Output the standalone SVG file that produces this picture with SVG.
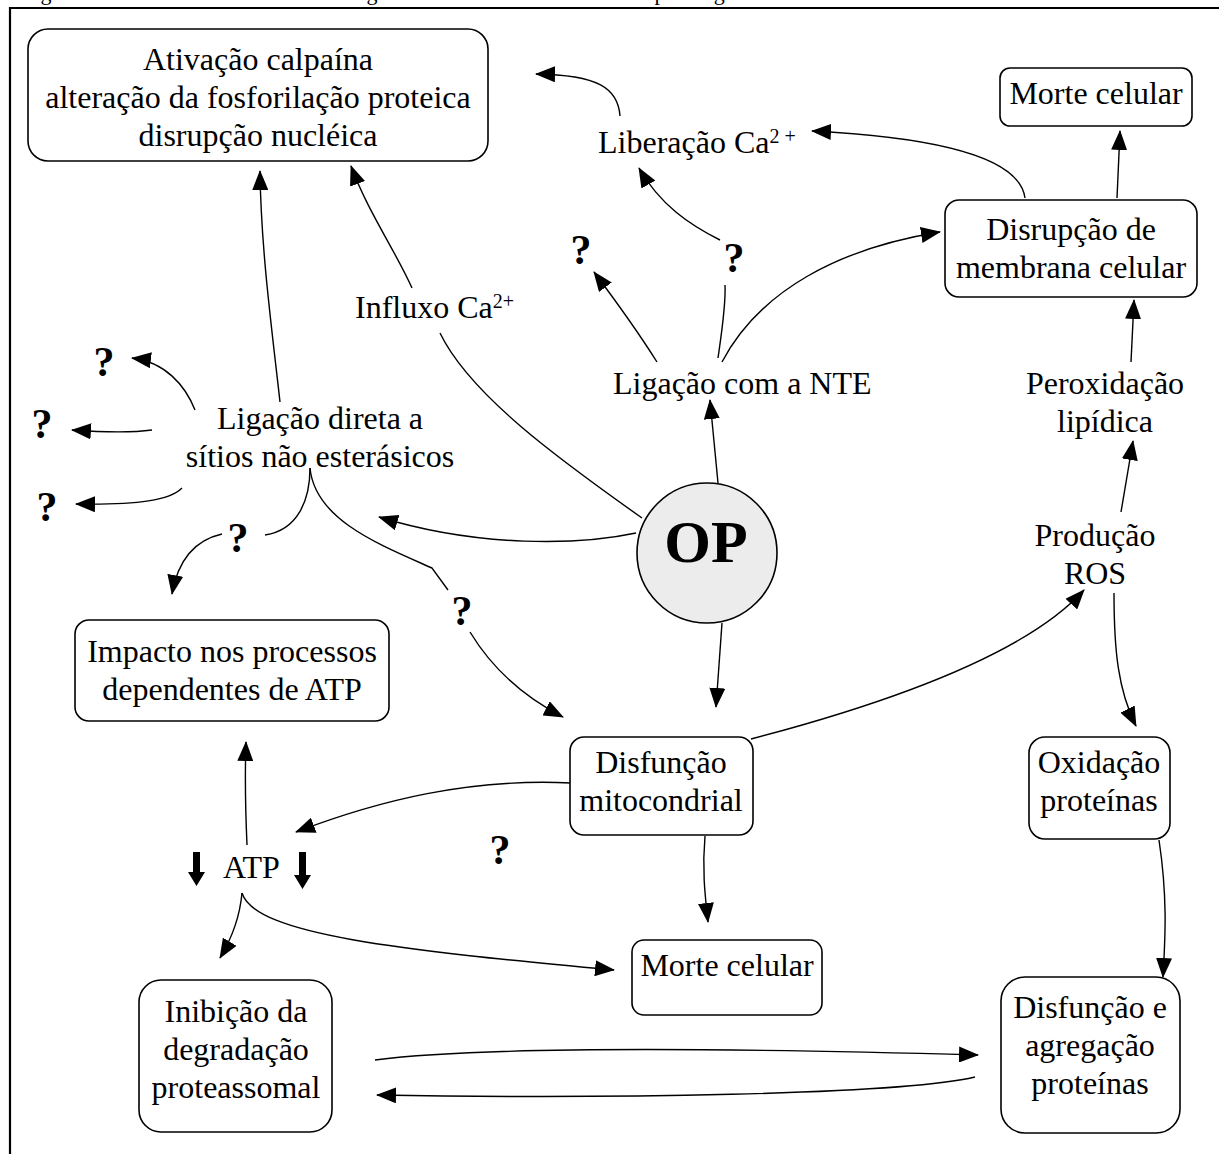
<svg xmlns="http://www.w3.org/2000/svg" width="1219" height="1154" viewBox="0 0 1219 1154">
  <defs>
    <marker id="arr" viewBox="0 0 20 16" refX="19" refY="8" markerWidth="20" markerHeight="16" markerUnits="userSpaceOnUse" orient="auto">
      <path d="M0,0 L20,8 L0,16 Z" fill="#000"/>
    </marker>
    <style>
      .t { font-family: "Liberation Serif", "Times New Roman", serif; font-size: 32px; fill: #000; }
      .c { text-anchor: middle; }
      .q { font-family: "Liberation Serif", "Times New Roman", serif; font-size: 42px; font-weight: bold; text-anchor: middle; fill: #000; }
      .box { fill: #fff; stroke: #000; stroke-width: 1.6; }
      .ln { fill: none; stroke: #000; stroke-width: 1.4; }
      .ar { fill: none; stroke: #000; stroke-width: 1.4; marker-end: url(#arr); }
      .cap { font-family: "Liberation Serif", "Times New Roman", serif; font-size: 22px; fill: #000; }
    </style>
  </defs>

  <rect width="1219" height="1154" fill="#fff"/>

  <!-- caption, clipped by the page top -->
  <text class="cap" x="20" y="0" textLength="850">Figura 1 – Mecanismos não colinérgicos de toxicidade induzida por organofosforados.</text>

  <!-- page frame -->
  <path d="M10,1154 L10,8 L1219,8" fill="none" stroke="#000" stroke-width="2.2"/>

  <!-- connectors -->
  <g id="connectors">
    <path class="ar" d="M620,116 C618,88 598,75 536,74"/>
    <path class="ar" d="M1025,198 C1020,160 950,138 812,131"/>
    <path class="ar" d="M1117,198 L1120,131"/>
    <path class="ar" d="M1131,362 L1134,300"/>
    <path class="ar" d="M1121,512 L1133,441"/>
    <path class="ar" d="M1114,593 C1114,650 1118,690 1136,726"/>
    <path class="ar" d="M751,739 C900,700 1030,650 1084,590"/>
    <path class="ar" d="M1159,840 C1168,900 1165,940 1163,977"/>
    <path class="ar" d="M375,1060 C500,1044 800,1050 978,1055"/>
    <path class="ar" d="M975,1077 C900,1095 600,1099 377,1095"/>
    <path class="ar" d="M247,845 C245,800 245,770 246,742"/>
    <path class="ar" d="M571,783 C470,778 380,800 296,832"/>
    <path class="ar" d="M242,893 C240,915 232,938 220,958"/>
    <path class="ar" d="M242,893 C255,935 400,950 614,970"/>
    <path class="ar" d="M705,836 C702,870 705,895 708,922"/>
    <path class="ar" d="M722,623 L716,707"/>
    <path class="ar" d="M718,483 L710,400"/>
    <path class="ar" d="M636,533 C580,545 480,548 379,517"/>
    <path class="ln" d="M642,518 C560,460 470,395 440,333"/>
    <path class="ar" d="M412,288 C395,250 368,212 351,166"/>
    <path class="ar" d="M280,402 C272,330 261,250 260,171"/>
    <path class="ar" d="M195,410 C185,385 165,362 132,358"/>
    <path class="ar" d="M152,430 C130,433 100,432 72,430"/>
    <path class="ar" d="M182,488 C170,500 140,505 76,504"/>
    <path class="ln" d="M310,468 C310,500 298,530 265,535"/>
    <path class="ar" d="M222,534 C195,540 178,560 172,594"/>
    <path class="ln" d="M310,468 C315,520 380,545 432,568 L448,590"/>
    <path class="ar" d="M470,632 C490,665 520,695 563,717"/>
    <path class="ar" d="M657,362 C640,335 615,300 594,272"/>
    <path class="ln" d="M718,358 C722,330 726,305 725,285"/>
    <path class="ar" d="M720,240 C690,225 660,205 639,168"/>
    <path class="ar" d="M722,362 C760,290 840,248 940,232"/>
  </g>

  <!-- nodes -->
  <g id="ativacao">
    <rect class="box" x="28" y="29" width="460" height="132" rx="20"/>
    <text class="t c" x="258" y="70">Ativação calpaína</text>
    <text class="t c" x="258" y="108">alteração da fosforilação proteica</text>
    <text class="t c" x="258" y="146">disrupção nucléica</text>
  </g>
  <g id="morte-top">
    <rect class="box" x="1000" y="68" width="192" height="58" rx="10"/>
    <text class="t c" x="1096" y="104">Morte celular</text>
  </g>
  <g id="disrupcao-membrana">
    <rect class="box" x="945" y="200" width="252" height="97" rx="14"/>
    <text class="t c" x="1071" y="240">Disrupção de</text>
    <text class="t c" x="1071" y="278">membrana celular</text>
  </g>
  <g id="impacto-atp">
    <rect class="box" x="75" y="620" width="314" height="101" rx="14"/>
    <text class="t c" x="232" y="662">Impacto nos processos</text>
    <text class="t c" x="232" y="700">dependentes de ATP</text>
  </g>
  <g id="disfuncao-mito">
    <rect class="box" x="570" y="737" width="183" height="98" rx="14"/>
    <text class="t c" x="661" y="773">Disfunção</text>
    <text class="t c" x="661" y="811">mitocondrial</text>
  </g>
  <g id="oxidacao">
    <rect class="box" x="1029" y="737" width="141" height="102" rx="16"/>
    <text class="t c" x="1099" y="773">Oxidação</text>
    <text class="t c" x="1099" y="811">proteínas</text>
  </g>
  <g id="morte-bottom">
    <rect class="box" x="632" y="940" width="190" height="75" rx="12"/>
    <text class="t c" x="727" y="976">Morte celular</text>
  </g>
  <g id="inibicao">
    <rect class="box" x="139" y="980" width="193" height="152" rx="22"/>
    <text class="t c" x="236" y="1022">Inibição da</text>
    <text class="t c" x="236" y="1060">degradação</text>
    <text class="t c" x="236" y="1098">proteassomal</text>
  </g>
  <g id="agregacao">
    <rect class="box" x="1001" y="977" width="179" height="156" rx="24"/>
    <text class="t c" x="1090" y="1018">Disfunção e</text>
    <text class="t c" x="1090" y="1056">agregação</text>
    <text class="t c" x="1090" y="1094">proteínas</text>
  </g>
  <g id="op">
    <ellipse cx="707" cy="553" rx="70" ry="70" fill="#ececec" stroke="#000" stroke-width="1.6"/>
    <text x="706" y="562" text-anchor="middle" font-family="Liberation Serif, Times New Roman, serif" font-size="60" font-weight="bold">OP</text>
  </g>

  <!-- free labels -->
  <g id="liberacao-ca">
    <text class="t" x="598" y="153">Liberação Ca<tspan font-size="20" dy="-10">2 +</tspan></text>
  </g>
  <g id="influxo-ca">
    <text class="t" x="355" y="318">Influxo Ca<tspan font-size="20" dy="-10">2+</tspan></text>
  </g>
  <g id="ligacao-nte">
    <text class="t" x="613" y="394">Ligação com a NTE</text>
  </g>
  <g id="ligacao-direta">
    <text class="t c" x="320" y="429">Ligação direta a</text>
    <text class="t c" x="320" y="467">sítios não esterásicos</text>
  </g>
  <g id="peroxidacao">
    <text class="t c" x="1105" y="394">Peroxidação</text>
    <text class="t c" x="1105" y="432">lipídica</text>
  </g>
  <g id="producao-ros">
    <text class="t c" x="1095" y="546">Produção</text>
    <text class="t c" x="1095" y="584">ROS</text>
  </g>
  <g id="atp">
    <text class="t" x="223" y="878">ATP</text>
    <path d="M193,852 L200,852 L200,872 L205,872 L196.5,886 L188,872 L193,872 Z" fill="#000"/>
    <path d="M299,852 L306,852 L306,875 L311,875 L302.5,889 L294,875 L299,875 Z" fill="#000"/>
  </g>

  <!-- unknown pathways -->
  <g id="unknowns">
    <text class="q" x="104" y="376">?</text>
    <text class="q" x="42" y="438">?</text>
    <text class="q" x="47" y="521">?</text>
    <text class="q" x="238" y="552">?</text>
    <text class="q" x="462" y="625">?</text>
    <text class="q" x="581" y="264">?</text>
    <text class="q" x="734" y="272">?</text>
    <text class="q" x="500" y="864">?</text>
  </g>
</svg>
